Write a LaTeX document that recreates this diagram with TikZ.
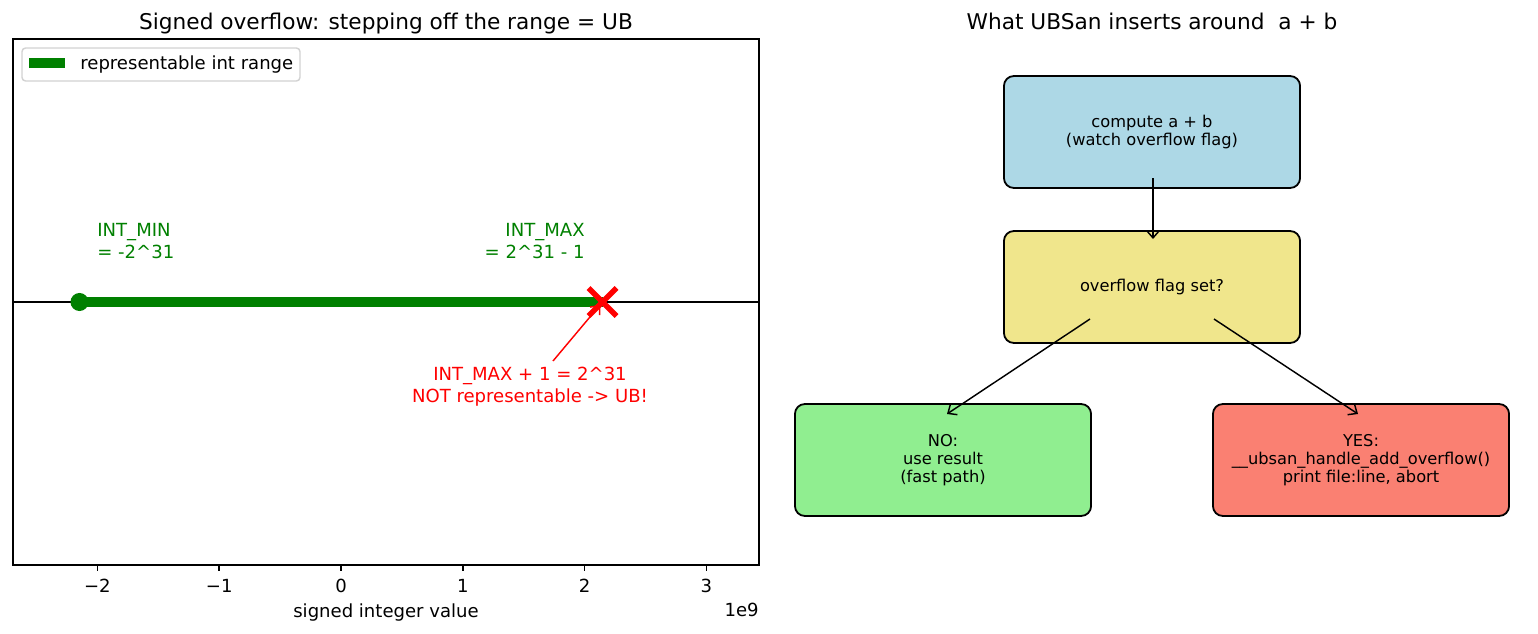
\documentclass[tikz,border=0pt]{standalone}
\usepackage{fontspec}
\setmainfont{DejaVu Sans}
\usetikzlibrary{arrows.meta,calc}

\definecolor{mplgreen}{HTML}{008000}
\definecolor{boxblue}{HTML}{ADD8E6}
\definecolor{boxkhaki}{HTML}{F0E68C}
\definecolor{boxgreen}{HTML}{90EE90}
\definecolor{boxsalmon}{HTML}{FA8072}

\tikzset{
  flowbox/.style={draw, line width=1pt, rounded corners=5.5pt, minimum width=164pt,
    minimum height=62pt, inner sep=0pt, align=center, font=\fontsize{9}{10}\selectfont},
  flowarrow/.style={-{Straight Barb[length=4pt,width=7pt]}, line width=0.8pt},
  plottext/.style={inner sep=0pt, font=\fontsize{10}{12}\selectfont},
  titletext/.style={inner sep=0pt, anchor=base, font=\fontsize{12}{14.4}\selectfont}
}

\begin{document}
\begin{tikzpicture}[x=0.5538pt, y=-0.5538pt]
  \useasboundingbox (0,0) rectangle (1538,634);

  % left: number line
  \node[titletext] (lefttitle) at (386,29) {Signed overflow: stepping off the range = UB};
  \draw[line width=0.8pt] (13,39) rectangle (759,565);
  \draw[line width=1pt] (13,302) -- (759,302);
  \coordinate (intmin) at (79.5,302);
  \coordinate (intmax) at (602.5,302);
  \draw[mplgreen, line width=6pt] (intmin) -- (intmax);
  \fill[mplgreen] (intmin) circle (5pt);
  \draw[red, line width=3pt] ($(intmax)+(-14,-14)$) -- ($(intmax)+(14,14)$)
                             ($(intmax)+(-14,14)$) -- ($(intmax)+(14,-14)$);
  \node[plottext, anchor=west, align=left, text=mplgreen] (minlabel) at (97,241) {INT\_MIN\\= -2\textasciicircum 31};
  \node[plottext, anchor=east, align=right, text=mplgreen] (maxlabel) at (585,241) {INT\_MAX\\= 2\textasciicircum 31 - 1};
  \node[plottext, align=center, text=red] (ubnote) at (530,387) {INT\_MAX + 1 = 2\textasciicircum 31\\NOT representable -> UB!};
  \coordinate (notetail) at (553,361);
  \draw[flowarrow, red, shorten >=2pt] (notetail) -- (intmax);

  % legend
  \draw[gray!35, fill=white, line width=0.8pt, rounded corners=2pt] (22,48) rectangle (300,81);
  \draw[mplgreen, line width=6pt] (29,63) -- (65,63);
  \node[plottext, anchor=base west] (legendtext) at (80,69) {representable int range};

  % axis
  \foreach \v/\lab in {-2/−2, -1/−1, 0/0, 1/1, 2/2, 3/3} {
    \draw[line width=0.8pt] ({341+121.8*\v},565) -- ++(0,6.3);
    \node[plottext, anchor=base] at ({341+121.8*\v},592) {\lab};
  }
  \node[plottext, anchor=base] (xlabel) at (386,617) {signed integer value};
  \node[plottext, anchor=base east] (offset) at (759,616) {1e9};

  % right: flow chart
  \node[titletext] (righttitle) at (1152,29) {What UBSan inserts around\ \ a + b};
  \node[flowbox, fill=boxblue] (compute) at (1152,132) {compute a + b\\(watch overflow flag)};
  \node[flowbox, fill=boxkhaki] (check) at (1152,287) {overflow flag set?};
  \node[flowbox, fill=boxgreen] (nopath) at (943,460) {NO:\\use result\\(fast path)};
  \node[flowbox, fill=boxsalmon] (yespath) at (1361,460) {YES:\\\_\_ubsan\_handle\_add\_overflow()\\print file:line, abort};

  \draw[flowarrow] ($(compute.center)+(1,46)$) -- ($(check.center)+(1,-48)$);
  \draw[flowarrow] ($(check.center)+(-62,32)$) -- ($(nopath.center)+(4,-46)$);
  \draw[flowarrow] ($(check.center)+(62,32)$) -- ($(yespath.center)+(-3,-46)$);
\end{tikzpicture}
\end{document}
